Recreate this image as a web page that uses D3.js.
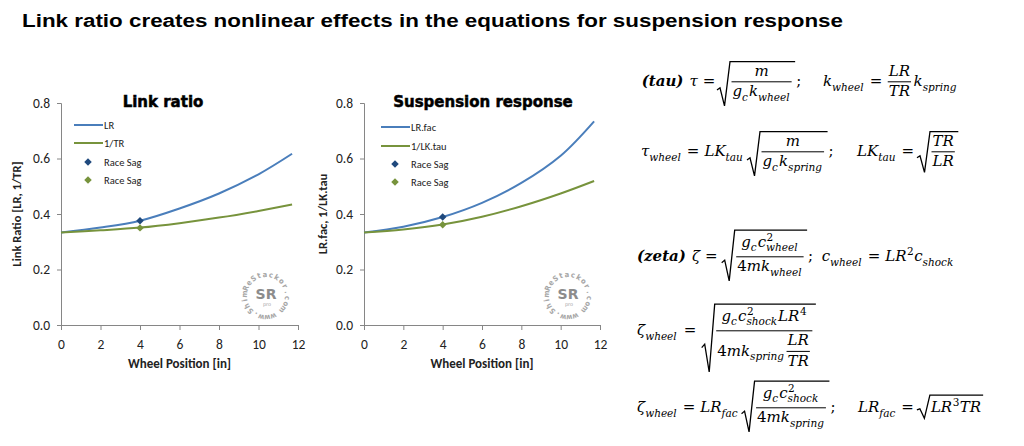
<!DOCTYPE html>
<html>
<head>
<meta charset="utf-8">
<script src="https://cdn.jsdelivr.net/npm/d3@7"></script>
<style>
body { margin: 0; background: #fff; }
svg { display: block; }
</style>
</head>
<body>
<svg id="chart" width="1024" height="446"></svg>
<script>
// ---- data ----
var wheelPos = [0, 2, 4, 6, 8, 10, 11.7];
var linkLR = [0.333, 0.351, 0.376, 0.420, 0.474, 0.543, 0.617];
var linkInvTR = [0.333, 0.341, 0.351, 0.367, 0.387, 0.411, 0.434];
var respLRfac = [0.333, 0.354, 0.389, 0.440, 0.512, 0.610, 0.734];
var respInvLKtau = [0.333, 0.344, 0.362, 0.390, 0.428, 0.474, 0.519];
var sagPos = 4;
var sagLink = [0.376, 0.350];
var sagResp = [0.389, 0.361];
var xTicks = [0, 2, 4, 6, 8, 10, 12];
var xMinor = [0, 1, 2, 3, 4, 5, 6, 7, 8, 9, 10, 11, 12];
var yTicks = [0, 0.2, 0.4, 0.6, 0.8];
var yMinor = [0, 0.1, 0.2, 0.3, 0.4, 0.5, 0.6, 0.7, 0.8];

var blueLine = "#4a7ebb", greenLine = "#77933c";
var blueMark = "#1f497d", greenMark = "#77933c";
var axisCol = "#868686";
var tickFont = "Carlito, Lato, 'Open Sans', sans-serif";

var svg = d3.select("#chart");

svg.append("text")
    .attr("x", 22).attr("y", 27)
    .attr("font-family", "'Liberation Sans', Arial, sans-serif")
    .attr("font-weight", "bold").attr("font-size", 17.5)
    .attr("textLength", 821).attr("lengthAdjust", "spacingAndGlyphs")
    .text("Link ratio creates nonlinear effects in the equations for suspension response");

function watermark(cx, cy) {
    var g = svg.append("g").attr("transform", "translate(" + cx + "," + cy + ")").attr("fill", "#a6a6a6");
    var r = 19, label = "www.ShimReStackor.com";
    var a0 = 0.35, step = (2 * Math.PI - 0.55) / (label.length - 1);
    // letters placed one by one, clockwise from about 5 o'clock, tops outward
    label.split("").forEach(function (ch, i) {
        var a = a0 - i * step;
        g.append("text")
            .attr("transform", "translate(" + (r * Math.sin(a)).toFixed(2) + "," + (r * Math.cos(a)).toFixed(2) +
                ") rotate(" + (180 - a * 180 / Math.PI).toFixed(1) + ")")
            .attr("text-anchor", "middle")
            .attr("font-family", "'DejaVu Sans Condensed', 'DejaVu Sans', sans-serif")
            .attr("font-weight", "bold").attr("font-size", 7.5).text(ch);
    });
    g.append("text").attr("x", 0).attr("y", 3).attr("text-anchor", "middle")
        .attr("font-family", "'DejaVu Sans', sans-serif").attr("font-weight", "bold")
        .attr("font-size", 14).attr("fill", "#8c8c8c").text("SR");
    g.append("text").attr("x", 1).attr("y", 9.5).attr("text-anchor", "middle")
        .attr("font-family", "'DejaVu Sans', sans-serif").attr("font-size", 5).text("pro");
}

function drawPanel(p) {
    var x = d3.scaleLinear().domain([0, 12]).range([p.left, p.right]);
    var y = d3.scaleLinear().domain([0, 0.8]).range([325, 103]);
    var g = svg.append("g");

    watermark(p.wmX, 296);

    var ax = g.append("g").attr("transform", "translate(0,325)");
    ax.call(d3.axisBottom(x).tickValues(xMinor).tickSize(5).tickFormat(""));
    ax.call(d3.axisBottom(x).tickValues(xTicks).tickSize(5).tickPadding(9).tickFormat(d3.format("d")));
    var ay = g.append("g").attr("transform", "translate(" + p.left + ",0)");
    ay.call(d3.axisLeft(y).tickValues(yMinor).tickSize(4).tickFormat(""));
    ay.call(d3.axisLeft(y).tickValues(yTicks).tickSize(4).tickPadding(7).tickFormat(d3.format(".1f")));
    g.selectAll(".domain, .tick line").attr("stroke", axisCol);
    g.selectAll(".tick text").attr("font-family", tickFont).attr("font-size", 13.5).attr("fill", "#222");

    var line = d3.line().x(function (d) { return x(d[0]); }).y(function (d) { return y(d[1]); })
        .curve(d3.curveCatmullRom.alpha(0.5));
    g.append("path").attr("d", line(d3.zip(wheelPos, p.s1))).attr("fill", "none")
        .attr("stroke", blueLine).attr("stroke-width", 2);
    g.append("path").attr("d", line(d3.zip(wheelPos, p.s2))).attr("fill", "none")
        .attr("stroke", greenLine).attr("stroke-width", 2);

    var diamond = d3.symbol(d3.symbolSquare).size(28);
    [[p.sag[0], blueMark], [p.sag[1], greenMark]].forEach(function (m) {
        g.append("path").attr("d", diamond())
            .attr("transform", "translate(" + x(sagPos) + "," + y(m[0]) + ") rotate(45)")
            .attr("fill", m[1]);
    });

    // legend
    var lg = g.append("g").attr("font-family", tickFont).attr("font-size", 10.5).attr("fill", "#222");
    var rows = [p.names[0], p.names[1], "Race Sag", "Race Sag"];
    var cols = [blueLine, greenLine, blueMark, greenMark];
    rows.forEach(function (name, i) {
        var yy = p.legY[i];
        if (i < 2) {
            lg.append("line").attr("x1", p.legX).attr("x2", p.legX + 29).attr("y1", yy).attr("y2", yy)
                .attr("stroke", cols[i]).attr("stroke-width", 2);
        } else {
            lg.append("path").attr("d", diamond())
                .attr("transform", "translate(" + (p.legX + 14) + "," + yy + ") rotate(45)")
                .attr("fill", cols[i]);
        }
        lg.append("text").attr("x", p.legX + 30).attr("y", yy + 3.5).text(name);
    });

    g.append("text").attr("x", p.titleX).attr("y", 107).attr("text-anchor", "middle")
        .attr("font-family", "'DejaVu Sans', sans-serif").attr("font-weight", "bold")
        .attr("font-size", 15).attr("stroke", "#000").attr("stroke-width", 0.5).text(p.title);
    g.append("text").attr("x", (p.left + p.right) / 2).attr("y", 368).attr("text-anchor", "middle")
        .attr("font-family", tickFont).attr("font-weight", "bold").attr("font-size", 13)
        .attr("fill", "#222").text("Wheel Position [in]");
    g.append("text").attr("transform", "translate(" + p.ylabX + ",214) rotate(-90)")
        .attr("text-anchor", "middle").attr("font-family", tickFont).attr("font-weight", "bold")
        .attr("font-size", 12.5).attr("fill", "#222").text(p.ylabel);
}

drawPanel({
    left: 61, right: 298, s1: linkLR, s2: linkInvTR, sag: sagLink,
    names: ["LR", "1/TR"], legX: 74, legY: [125, 143, 162, 180],
    title: "Link ratio", titleX: 163, ylabel: "Link Ratio [LR, 1/TR]", ylabX: 21, wmX: 266
});
drawPanel({
    left: 364, right: 600, s1: respLRfac, s2: respInvLKtau, sag: sagResp,
    names: ["LR.fac", "1/LK.tau"], legX: 381, legY: [127, 146, 164, 182],
    title: "Suspension response", titleX: 483, ylabel: "LR.fac, 1/LK.tau", ylabX: 327, wmX: 568
});

// ---- equations: tiny math layout ----
var mathFont = "'DejaVu Serif', serif";
var eqSize = 15;
var eq = svg.append("g").attr("fill", "#000");

function mText(g, str, x, y, size, style) {
    var t = g.append("text").attr("x", x).attr("y", y).attr("font-size", size)
        .attr("font-family", mathFont).text(str);
    if (style.indexOf("i") >= 0) t.attr("font-style", "italic");
    if (style.indexOf("b") >= 0) t.attr("font-weight", "bold");
    return t.node().getComputedTextLength();
}

function layout(g, items, x, y, size) {
    var cx = x, asc = size * 0.72, desc = size * 0.22;
    items.forEach(function (it) {
        if (typeof it === "string") it = { t: it };
        if (it.at !== undefined) { cx = Math.max(cx, it.at); return; }
        if (it.gap !== undefined) { cx += it.gap; return; }
        if (it.frac) {
            var gn = g.append("g"), gd = g.append("g");
            var n = layout(gn, it.frac[0], 0, 0, size), d = layout(gd, it.frac[1], 0, 0, size);
            var w = Math.max(n.w, d.w) + 3, axis = y - size * 0.28;
            gn.attr("transform", "translate(" + (cx + (w - n.w) / 2) + "," + (axis - 3 - n.desc) + ")");
            gd.attr("transform", "translate(" + (cx + (w - d.w) / 2) + "," + (axis + 3.5 + d.asc) + ")");
            g.append("line").attr("x1", cx + 0.5).attr("x2", cx + w - 0.5).attr("y1", axis).attr("y2", axis)
                .attr("stroke", "#000").attr("stroke-width", 1);
            asc = Math.max(asc, y - (axis - 3 - n.desc - n.asc));
            desc = Math.max(desc, axis + 3.5 + d.asc + d.desc - y);
            cx += w + 1;
            return;
        }
        if (it.sqrt) {
            var gs = g.append("g");
            var c = layout(gs, it.sqrt, 0, 0, size);
            var rw = 14;
            gs.attr("transform", "translate(" + (cx + rw) + "," + y + ")");
            var top = y - c.asc - 3, bot = y + c.desc + 3, h = bot - top;
            g.append("path").attr("fill", "none").attr("stroke", "#000").attr("stroke-width", 1.3)
                .attr("stroke-linejoin", "miter")
                .attr("d", "M" + cx + "," + (bot - h * 0.36) + " L" + (cx + 3) + "," + (bot - h * 0.41) +
                    " L" + (cx + 7.5) + "," + bot + " L" + (cx + 13) + "," + top +
                    " L" + (cx + rw + c.w + 2) + "," + top);
            asc = Math.max(asc, y - top + 1);
            desc = Math.max(desc, bot - y);
            cx += rw + c.w + 3;
            return;
        }
        var w0 = mText(g, it.t, cx, y, size, it.f || "i");
        var sw = 0;
        if (it.sub) {
            sw = mText(g, it.sub, cx + w0, y + size * 0.3, size * 0.7, "i");
            desc = Math.max(desc, size * 0.3 + size * 0.7 * 0.22);
        }
        if (it.sup) {
            sw = Math.max(sw, mText(g, it.sup, cx + w0 + 0.5, y - size * 0.42, size * 0.7, "n"));
            asc = Math.max(asc, size * 0.42 + size * 0.7 * 0.72);
        }
        cx += w0 + sw + (sw ? 1 : 0);
    });
    return { w: cx - x, asc: asc, desc: desc };
}

var gc = { t: "g", sub: "c" };
var eqRows = [
    { y: 86, items: [{ at: 641.7 }, { t: "(tau)", f: "bi" }, { gap: 6 }, "τ", { gap: 5 }, { t: "=", f: "n" },
        { at: 717 }, { sqrt: [{ frac: [["m"], [gc, { t: "k", sub: "wheel" }]] }] }, { t: ";", f: "n" },
        { at: 823 }, { t: "k", sub: "wheel" }, { gap: 5 }, { t: "=", f: "n" }, { gap: 5 },
        { frac: [["LR"], ["TR"]] }, { gap: 1 }, { t: "k", sub: "spring" }] },
    { y: 156, items: [{ at: 641 }, { t: "τ", sub: "wheel" }, { gap: 5 }, { t: "=", f: "n" }, { gap: 5 },
        { t: "LK", sub: "tau" }, { gap: 3 }, { at: 747 },
        { sqrt: [{ frac: [["m"], [gc, { t: "k", sub: "spring" }]] }] }, { t: ";", f: "n" },
        { at: 857 }, { t: "LK", sub: "tau" }, { gap: 5 }, { t: "=", f: "n" }, { gap: 3 },
        { at: 917 }, { sqrt: [{ frac: [["TR"], ["LR"]] }] }] },
    { y: 261, items: [{ at: 637 }, { t: "(zeta)", f: "bi" }, { gap: 6 }, "ζ", { gap: 5 }, { t: "=", f: "n" },
        { gap: 3 }, { at: 721.7 }, { sqrt: [{ frac: [[gc, { t: "c", sup: "2", sub: "wheel" }],
            [{ t: "4", f: "n" }, { t: "mk", sub: "wheel" }]] }] }, { t: ";", f: "n" }, { gap: 8 },
        { at: 821.7 }, { t: "c", sub: "wheel" }, { gap: 5 }, { t: "=", f: "n" }, { gap: 5 },
        { t: "LR", sup: "2" }, { t: "c", sub: "shock" }] },
    { y: 335, items: [{ at: 637 }, { t: "ζ", sub: "wheel" }, { gap: 6 }, { t: "=", f: "n" }, { gap: 3 },
        { at: 701.7 }, { sqrt: [{ frac: [[gc, { t: "c", sup: "2", sub: "shock" }, { t: "LR", sup: "4" }],
            [{ t: "4", f: "n" }, { t: "mk", sub: "spring" }, { gap: 1 }, { frac: [["LR"], ["TR"]] }]] }] }] },
    { y: 412, items: [{ at: 637 }, { t: "ζ", sub: "wheel" }, { gap: 5 }, { t: "=", f: "n" }, { gap: 5 },
        { t: "LR", sub: "fac" }, { gap: 3 }, { at: 740 },
        { sqrt: [{ frac: [[gc, { t: "c", sup: "2", sub: "shock" }], [{ t: "4", f: "n" }, { t: "mk", sub: "spring" }]] }] },
        { t: ";", f: "n" }, { gap: 8 }, { at: 858 }, { t: "LR", sub: "fac" }, { gap: 5 }, { t: "=", f: "n" },
        { gap: 3 }, { at: 916.7 }, { sqrt: [{ t: "LR", sup: "3" }, "TR"] }] }
];
eqRows.forEach(function (r) { layout(eq, r.items, 0, r.y, eqSize); });
</script>
</body>
</html>
